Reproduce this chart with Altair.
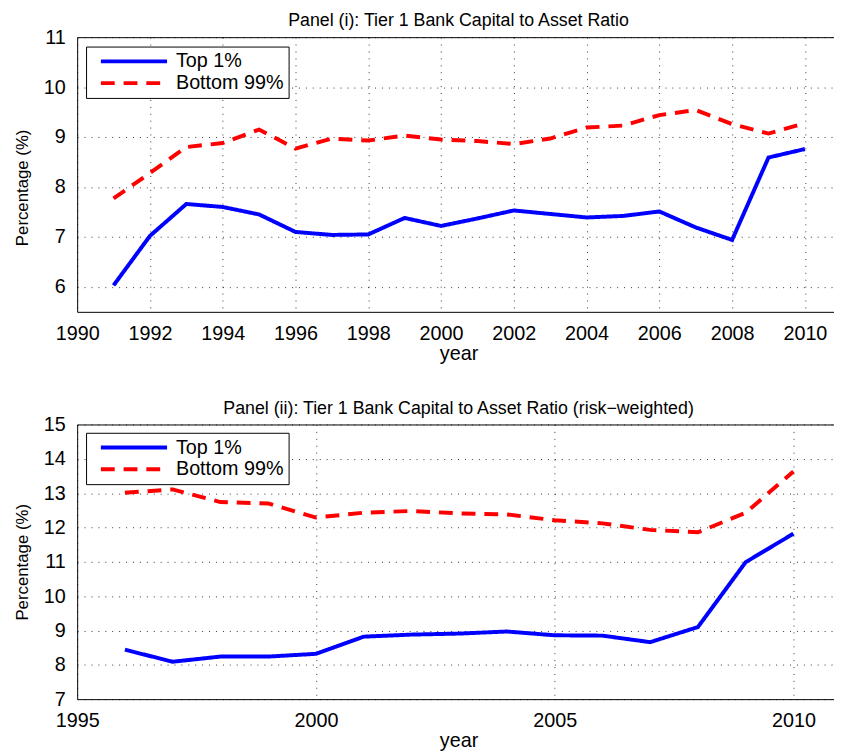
import altair as alt
import pandas as pd

SERIES = ["Top 1%", "Bottom 99%"]
COLORS = ["#0000ff", "#ff0000"]
DASHES = [[1, 0], [14, 9]]

years_i = list(range(1991, 2011))
top1_i = [6.03, 7.02, 7.66, 7.60, 7.45, 7.10, 7.04, 7.05, 7.38, 7.22,
          7.37, 7.53, 7.46, 7.39, 7.42, 7.51, 7.19, 6.94, 8.59, 8.76]
bottom99_i = [7.77, 8.28, 8.80, 8.88, 9.15, 8.77, 8.97, 8.93, 9.03, 8.95,
              8.92, 8.86, 8.97, 9.19, 9.23, 9.44, 9.54, 9.26, 9.07, 9.28]

years_ii = list(range(1996, 2011))
top1_ii = [8.44, 8.09, 8.24, 8.24, 8.32, 8.82, 8.88, 8.91, 8.97, 8.86,
           8.85, 8.66, 9.10, 10.99, 11.82]
bottom99_ii = [13.01, 13.11, 12.74, 12.70, 12.29, 12.43, 12.48, 12.41, 12.38, 12.21,
               12.12, 11.93, 11.86, 12.43, 13.63]

xticks_i = list(range(1990, 2011, 2))
yticks_i = [6, 7, 8, 9, 10, 11]
xticks_ii = [1995, 2000, 2005, 2010]
yticks_ii = list(range(7, 16))

title_i = "Panel (i): Tier 1 Bank Capital to Asset Ratio"
title_ii = "Panel (ii): Tier 1 Bank Capital to Asset Ratio (risk\u2212weighted)"

FONT = "Liberation Sans"


def make_df(years, a, b):
    rows = []
    for y, v in zip(years, a):
        rows.append({"year": y, "series": SERIES[0], "value": v})
    for y, v in zip(years, b):
        rows.append({"year": y, "series": SERIES[1], "value": v})
    return pd.DataFrame(rows)


def panel(df, title, xdom, xvals, ydom, yvals, legend_y, title_dx, ytitle_y):
    leg = alt.Legend(
        orient="none", legendX=9, legendY=legend_y, title=None,
        symbolType="stroke", symbolSize=4489, symbolStrokeWidth=4,
        clipHeight=20, labelFontSize=20, labelFont=FONT, labelColor="black",
        labelOffset=7, rowPadding=2, padding=5, symbolOffset=8,
        strokeColor="black", fillColor="white", cornerRadius=0,
    )
    xs = alt.Scale(domain=xdom, nice=False, zero=False)
    ys = alt.Scale(domain=ydom, nice=False, zero=False)
    xaxis = alt.Axis(values=xvals, format="d", title="year", labelFontSize=20,
                     titleFontSize=20, labelPadding=12, titlePadding=0, ticks=False,
                     domainColor="black", grid=True, gridDash=[1, 6], gridColor="black",
                     gridOpacity=0.8, labelFlush=False, labelColor="black",
                     titleColor="black", labelFont=FONT, titleFont=FONT,
                     titleFontWeight="normal", labelOverlap=False, titleX=386)
    yopts = dict(values=yvals, title="Percentage (%)", labelFontSize=20,
                 titleFontSize=17, labelPadding=12, titlePadding=12, ticks=False,
                 domainColor="black", grid=True, gridDash=[1, 6], gridColor="black",
                 gridOpacity=0.8, labelColor="black", titleColor="black",
                 labelFont=FONT, titleFont=FONT, titleFontWeight="normal",
                 labelOverlap=False)
    if ytitle_y is not None:
        yopts["titleY"] = ytitle_y
    yaxis = alt.Axis(**yopts)
    base = alt.Chart(df)
    lines = base.mark_line(strokeWidth=4).encode(
        x=alt.X("year:Q", scale=xs, axis=xaxis),
        y=alt.Y("value:Q", scale=ys, axis=yaxis),
        color=alt.Color("series:N", scale=alt.Scale(domain=SERIES, range=COLORS), legend=leg),
        strokeDash=alt.StrokeDash("series:N", scale=alt.Scale(domain=SERIES, range=DASHES), legend=leg),
    )
    frame = base.mark_line(opacity=0).encode(
        x=alt.X("year:Q", scale=xs, axis=alt.Axis(orient="top", labels=False, ticks=False,
                                                   grid=False, domain=True, title=None,
                                                   domainColor="black")),
        y=alt.Y("value:Q", scale=ys, axis=yaxis),
        detail="series:N",
    )
    return alt.layer(lines, frame).resolve_axis(x="independent").properties(
        width=766, height=278,
        title=alt.TitleParams(title, fontSize=18, font=FONT, fontWeight="normal",
                              color="black", offset=-3, anchor="middle", dx=title_dx,
                              frame="group"),
    )


p1 = panel(make_df(years_i, top1_i, bottom99_i), title_i, [1990, 2010.8], xticks_i,
           [5.5, 11], yticks_i, 9.5, 3, 152)
p2 = panel(make_df(years_ii, top1_ii, bottom99_ii), title_ii, [1995, 2010.85], xticks_ii,
           [7, 15], yticks_ii, 8.4, 3, None)

chart = alt.vconcat(p1, p2, spacing=37).resolve_scale(
    x="independent", y="independent", color="independent", strokeDash="independent"
).resolve_legend(color="independent", strokeDash="independent").configure_view(
    stroke=None
).properties(padding={"left": 5, "top": 0, "right": 0, "bottom": 0})

chart.save("out.html", embed_options={"renderer": "svg", "actions": False})
